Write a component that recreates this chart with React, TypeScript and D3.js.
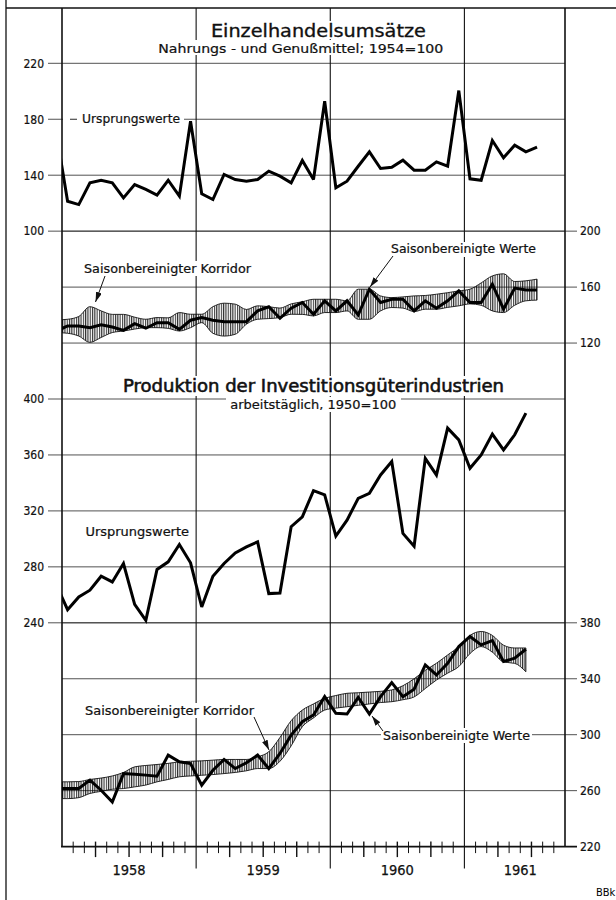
import React from 'react';
import * as d3 from 'd3';

// Monatswerte ab Dez. 1957 (Index -1), Jan. 1958 = 0
const firstMonth = -1;
const years = ['1958', '1959', '1960', '1961'];

// Einzelhandelsumsätze, Nahrungs- und Genußmittel (1954=100)
const retailRaw = [170, 121.4, 119, 134.5, 136.4, 134.5, 123.8, 133.3, 129.8, 125.7, 136.4, 125, 178.6,
  126.7, 122.6, 140.5, 136.9, 135.7, 136.9, 142.9, 139.3, 134.5, 150.5, 136.9, 192.9,
  131, 135.7, 146.4, 156.7, 144.8, 145.7, 150.7, 143.6, 143.6, 149.5, 146.4, 200.5,
  137.4, 136.4, 164.8, 152.4, 161.4, 156.7, 160];
const retailAdj = [128.6, 132.2, 132.2, 131, 133, 131.5, 129.1, 133.9, 130.6, 134.6, 134.6, 129.8, 136.3,
  138.2, 136.3, 135.3, 135.3, 135.3, 143, 145.9, 137.7, 144.9, 149, 140.6, 150.2,
  143, 150.2, 140.1, 158.5, 149, 151.3, 151.3, 143, 150.2, 144.9, 150.2, 157.3,
  149, 149, 162.1, 144.2, 159.3, 158, 158];
const retailHi = [136.5, 137, 139, 146, 143, 140.5, 140.5, 138.5, 137, 138.2, 138, 141.8, 140.6,
  140.6, 146, 148.5, 147.8, 144, 146.6, 146, 145, 148, 149.5, 151.3, 151.3,
  151.3, 150.2, 158.5, 158.5, 153.7, 152.5, 153, 153.7, 154, 154.9, 156, 157.3,
  158.5, 163, 168, 169.5, 164, 164.5, 165.7];
const retailLo = [127.5, 127, 125, 120.5, 124, 127.5, 128.6, 130, 131, 131, 130.5, 128.6, 131,
  134.6, 127, 125, 126.3, 133.5, 137, 137.5, 138.2, 140.6, 140.5, 139.4, 141.8,
  141.8, 143, 137, 137, 143, 145.4, 145, 142.5, 144.2, 144.2, 145.5, 146.6,
  148, 147, 143, 141.8, 147, 150.2, 150.7];

// Produktion der Investitionsgüterindustrien (arbeitstäglich, 1950=100)
const investRaw = [267, 249.4, 258.5, 263.3, 273.3, 269.2, 282.4, 253.2, 241.8, 278.1, 283.6, 296, 282.9,
  251.3, 273.3, 282.4, 290, 294.3, 297.9, 260.9, 261.3, 308.7, 315.8, 334.5, 331.4,
  302, 313.4, 329, 332.6, 345.7, 355.3, 303.9, 294.8, 357.6, 345.7, 379.2, 370.8,
  350.5, 360, 374.9, 363.6, 374.4, 389.9];
const investAdj = [261.5, 261.5, 261.5, 267.5, 260.3, 251.9, 272.2, 271.8, 271.1, 270.3, 285.4, 280.6, 279.4,
  263.9, 274.6, 282.3, 275.8, 279.9, 285.4, 275.8, 286.6, 299.7, 309.3, 314.1, 327.2,
  315.3, 314.8, 326.7, 314.8, 327.2, 337.2, 327.2, 332.5, 349.9, 342.7, 351.1, 363,
  370.2, 364.2, 367.3, 352.3, 354.7, 361.1];
const investHi = [266.3, 266.3, 266.5, 268, 269, 270.5, 273, 277, 278, 278.7, 279.5, 280.6, 281,
  281.3, 281.8, 282.3, 282.3, 282.3, 284.2, 287.8, 298, 310, 317.6, 322, 326,
  328, 329.6, 330, 330.5, 331, 332, 335, 340, 346, 351.1, 357, 363,
  371, 373.8, 371, 364, 362, 362];
const investLo = [254.3, 254.3, 255, 258, 259.5, 261, 261.5, 262.7, 264, 266.3, 268, 269.9, 270.5,
  271, 271.5, 272.2, 273, 274.2, 275.8, 275.8, 281, 292, 305.7, 312, 317.6,
  319, 320, 321, 322, 323, 323.6, 325, 327, 333, 339.1, 344, 348.7,
  358, 363, 359, 352, 351, 345];

const retailLeftTicks = [220, 180, 140, 100];
const retailRightTicks = [200, 160, 120];
const investLeftTicks = [400, 360, 320, 280, 240];
const investRightTicks = [380, 340, 300, 260, 220];

const W = 616;
const H = 900;
const X0 = 62;
const X1 = 565;
const TOP = 8;
const G0 = 63.3;
const STEP = 55.95;
const AXIS_Y = G0 + 14 * STEP;
const FONT = '"DejaVu Sans Condensed", "DejaVu Sans", sans-serif';

const x = d3.scaleLinear().domain([0, 45]).range([X0, X1]);
const yRetailRaw = d3.scaleLinear().domain([100, 220]).range([G0 + 3 * STEP, G0]);
const yRetailAdj = d3.scaleLinear().domain([120, 200]).range([G0 + 5 * STEP, G0 + 3 * STEP]);
const yInvRaw = d3.scaleLinear().domain([240, 400]).range([G0 + 10 * STEP, G0 + 6 * STEP]);
const yInvAdj = d3.scaleLinear().domain([220, 380]).range([G0 + 14 * STEP, G0 + 10 * STEP]);

type Pt = { m: number; v: number; lo?: number };
const toPts = (vals: number[]): Pt[] => vals.map((v, i) => ({ m: firstMonth + i, v }));
const toBand = (hi: number[], lo: number[]): Pt[] => hi.map((v, i) => ({ m: firstMonth + i, v, lo: lo[i] }));

const mkLine = (y: d3.ScaleLinear<number, number>) =>
  d3.line<Pt>().x(d => x(d.m + 0.5)).y(d => y(d.v));
const mkArea = (y: d3.ScaleLinear<number, number>) =>
  d3.area<Pt>().x(d => x(d.m + 0.5)).y0(d => y(d.lo as number)).y1(d => y(d.v)).curve(d3.curveMonotoneX);

const Box = ({ x0, y0, w, h }: { x0: number; y0: number; w: number; h: number }) => (
  <rect x={x0} y={y0} width={w} height={h} fill="#fff" />
);

const Label = ({ tx, ty, s, len, size = 12, anchor = 'start', weight = 0.2 }:
  { tx: number; ty: number; s: string; len: number; size?: number; anchor?: string; weight?: number }) => (
  <text x={tx} y={ty} fontSize={size} textLength={len} lengthAdjust="spacingAndGlyphs"
    textAnchor={anchor as any} fontFamily={FONT} fill="#111" stroke="#111" strokeWidth={weight}>{s}</text>
);

const Arrow = ({ x1, y1, x2, y2 }: { x1: number; y1: number; x2: number; y2: number }) => (
  <line x1={x1} y1={y1} x2={x2} y2={y2} stroke="#111" strokeWidth={1} markerEnd="url(#head)" />
);

export default function App() {
  const gridStroke = '#333';
  const hLines: { y: number; xa: number; xb: number }[] = [];
  retailLeftTicks.forEach(v => hLines.push({ y: yRetailRaw(v), xa: X0 - 14, xb: X1 }));
  retailRightTicks.forEach(v => hLines.push({ y: yRetailAdj(v), xa: X0, xb: X1 + 12 }));
  investLeftTicks.forEach(v => hLines.push({ y: yInvRaw(v), xa: X0 - 14, xb: X1 }));
  investRightTicks.slice(0, -1).forEach(v => hLines.push({ y: yInvAdj(v), xa: X0, xb: X1 + 12 }));

  const monthTicks = d3.range(1, 45);
  const numStyle = { fontSize: 12, fontFamily: FONT, fill: '#111', stroke: '#111', strokeWidth: 0.2 };

  return (
    <svg width={W} height={H} viewBox={`0 0 ${W} ${H}`}
      style={{ position: 'absolute', left: 0, top: 0, background: '#fff' }}>
      <defs>
        <clipPath id="plot">
          <rect x={X0} y={TOP} width={X1 - X0} height={AXIS_Y - TOP} />
        </clipPath>
        <pattern id="hatch" width={2.3} height={4} patternUnits="userSpaceOnUse">
          <line x1={0.6} y1={0} x2={0.6} y2={4} stroke="#000" strokeWidth={0.9} />
        </pattern>
        <marker id="head" viewBox="0 0 10 6" refX={10} refY={3} markerWidth={10} markerHeight={6}
          markerUnits="userSpaceOnUse" orient="auto">
          <path d="M0,0 L10,3 L0,6 Z" fill="#111" />
        </marker>
      </defs>

      {/* Rahmen */}
      <line x1={6} y1={0} x2={6} y2={H} stroke="#111" strokeWidth={1.3} />
      <line x1={6} y1={TOP} x2={W} y2={TOP} stroke="#111" strokeWidth={1.5} />

      {/* Gitter */}
      {hLines.map((l, i) => (
        <line key={'h' + i} x1={l.xa} y1={l.y} x2={l.xb} y2={l.y} stroke={gridStroke} strokeWidth={0.85} />
      ))}
      {[12, 24, 36].map(k => (
        <line key={'v' + k} x1={x(k)} y1={TOP} x2={x(k)} y2={AXIS_Y + 22} stroke="#111" strokeWidth={1.1} />
      ))}
      <line x1={X0} y1={TOP} x2={X0} y2={AXIS_Y} stroke="#111" strokeWidth={1.6} />
      <line x1={X1} y1={TOP} x2={X1} y2={AXIS_Y} stroke="#111" strokeWidth={1.6} />
      <line x1={X0 - 1} y1={AXIS_Y} x2={X1 + 12} y2={AXIS_Y} stroke="#111" strokeWidth={1.8} />

      {/* Monatsstriche */}
      {monthTicks.filter(k => k % 12 !== 0).map(k => (
        <line key={'t' + k} x1={x(k)} x2={x(k)} y1={AXIS_Y - 5}
          y2={k % 3 === 0 ? AXIS_Y + 10.5 : AXIS_Y + 6.5} stroke="#111" strokeWidth={k % 3 === 0 ? 1.4 : 1} />
      ))}

      {/* Achsenbeschriftung */}
      {retailLeftTicks.map(v => (
        <text key={'rl' + v} x={44} y={yRetailRaw(v) + 4.3} textAnchor="end" {...numStyle}>{v}</text>
      ))}
      {investLeftTicks.map(v => (
        <text key={'il' + v} x={44} y={yInvRaw(v) + 4.3} textAnchor="end" {...numStyle}>{v}</text>
      ))}
      {retailRightTicks.map(v => (
        <text key={'rr' + v} x={580} y={yRetailAdj(v) + 4.3} {...numStyle}>{v}</text>
      ))}
      {investRightTicks.map(v => (
        <text key={'ir' + v} x={580} y={yInvAdj(v) + 4.3} {...numStyle}>{v}</text>
      ))}
      {years.map((yr, i) => (
        <text key={yr} x={i < 3 ? x(i * 12 + 6) : x(41)} y={AXIS_Y + 28.5} textAnchor="middle"
          {...numStyle} fontSize={14.5} strokeWidth={0.25}>{yr}</text>
      ))}

      {/* Titel */}
      <Box x0={206} y0={21} w={225} h={18} />
      <Box x0={155} y0={40} w={292} h={15} />
      <Label tx={318.4} ty={36.5} s="Einzelhandelsumsätze" len={215} size={17} anchor="middle" weight={0.3} />
      <Label tx={300.8} ty={52.5} s="Nahrungs - und Genußmittel; 1954=100" len={285} size={12} anchor="middle" />

      <Box x0={119} y0={376} w={389} h={20} />
      <Box x0={226} y0={397} w={175} h={15} />
      <Label tx={313.5} ty={391.5} s="Produktion der Investitionsgüterindustrien" len={381} size={18} anchor="middle" weight={0.55} />
      <Label tx={313.3} ty={409} s="arbeitstäglich, 1950=100" len={166} size={12.5} anchor="middle" />

      {/* Textfelder */}
      <Box x0={X0 + 1} y0={112} w={121} h={14} />
      <line x1={70} y1={yRetailRaw(180)} x2={77} y2={yRetailRaw(180)} stroke="#111" strokeWidth={0.9} />
      <Label tx={82} ty={123} s="Ursprungswerte" len={98} />
      <Box x0={82} y0={261} w={172} h={15} />
      <Label tx={84} ty={272.5} s="Saisonbereinigter Korridor" len={167} />
      <Box x0={389} y0={242} w={149} h={15} />
      <Label tx={391} ty={253} s="Saisonbereinigte Werte" len={145} />

      <Label tx={85.5} ty={536} s="Ursprungswerte" len={103.5} />
      <Box x0={83} y0={703} w={173} h={15} />
      <Label tx={85} ty={714.5} s="Saisonbereinigter Korridor" len={169} />
      <Box x0={381} y0={728} w={151} h={15} />
      <Label tx={383} ty={739.5} s="Saisonbereinigte Werte" len={147} />

      {/* Daten */}
      <g clipPath="url(#plot)">
        <path d={mkArea(yRetailAdj)(toBand(retailHi, retailLo)) || ''} fill="url(#hatch)" stroke="#111" strokeWidth={0.9} />
        <path d={mkArea(yInvAdj)(toBand(investHi, investLo)) || ''} fill="url(#hatch)" stroke="#111" strokeWidth={0.9} />
        <path d={mkLine(yRetailRaw)(toPts(retailRaw)) || ''} fill="none" stroke="#000" strokeWidth={3}
          strokeLinejoin="miter" strokeMiterlimit={3} />
        <path d={mkLine(yRetailAdj)(toPts(retailAdj)) || ''} fill="none" stroke="#000" strokeWidth={3}
          strokeLinejoin="miter" strokeMiterlimit={3} />
        <path d={mkLine(yInvRaw)(toPts(investRaw)) || ''} fill="none" stroke="#000" strokeWidth={3}
          strokeLinejoin="miter" strokeMiterlimit={3} />
        <path d={mkLine(yInvAdj)(toPts(investAdj)) || ''} fill="none" stroke="#000" strokeWidth={3}
          strokeLinejoin="miter" strokeMiterlimit={3} />
      </g>

      {/* Pfeile */}
      <Arrow x1={105} y1={276} x2={95.5} y2={302} />
      <Arrow x1={393} y1={256} x2={370} y2={287} />
      <Arrow x1={254} y1={717} x2={269} y2={750} />
      <Arrow x1={383} y1={731} x2={372} y2={716} />

      <text x={596} y={896} fontSize={11} fontFamily={FONT}>BBk</text>
    </svg>
  );
}
